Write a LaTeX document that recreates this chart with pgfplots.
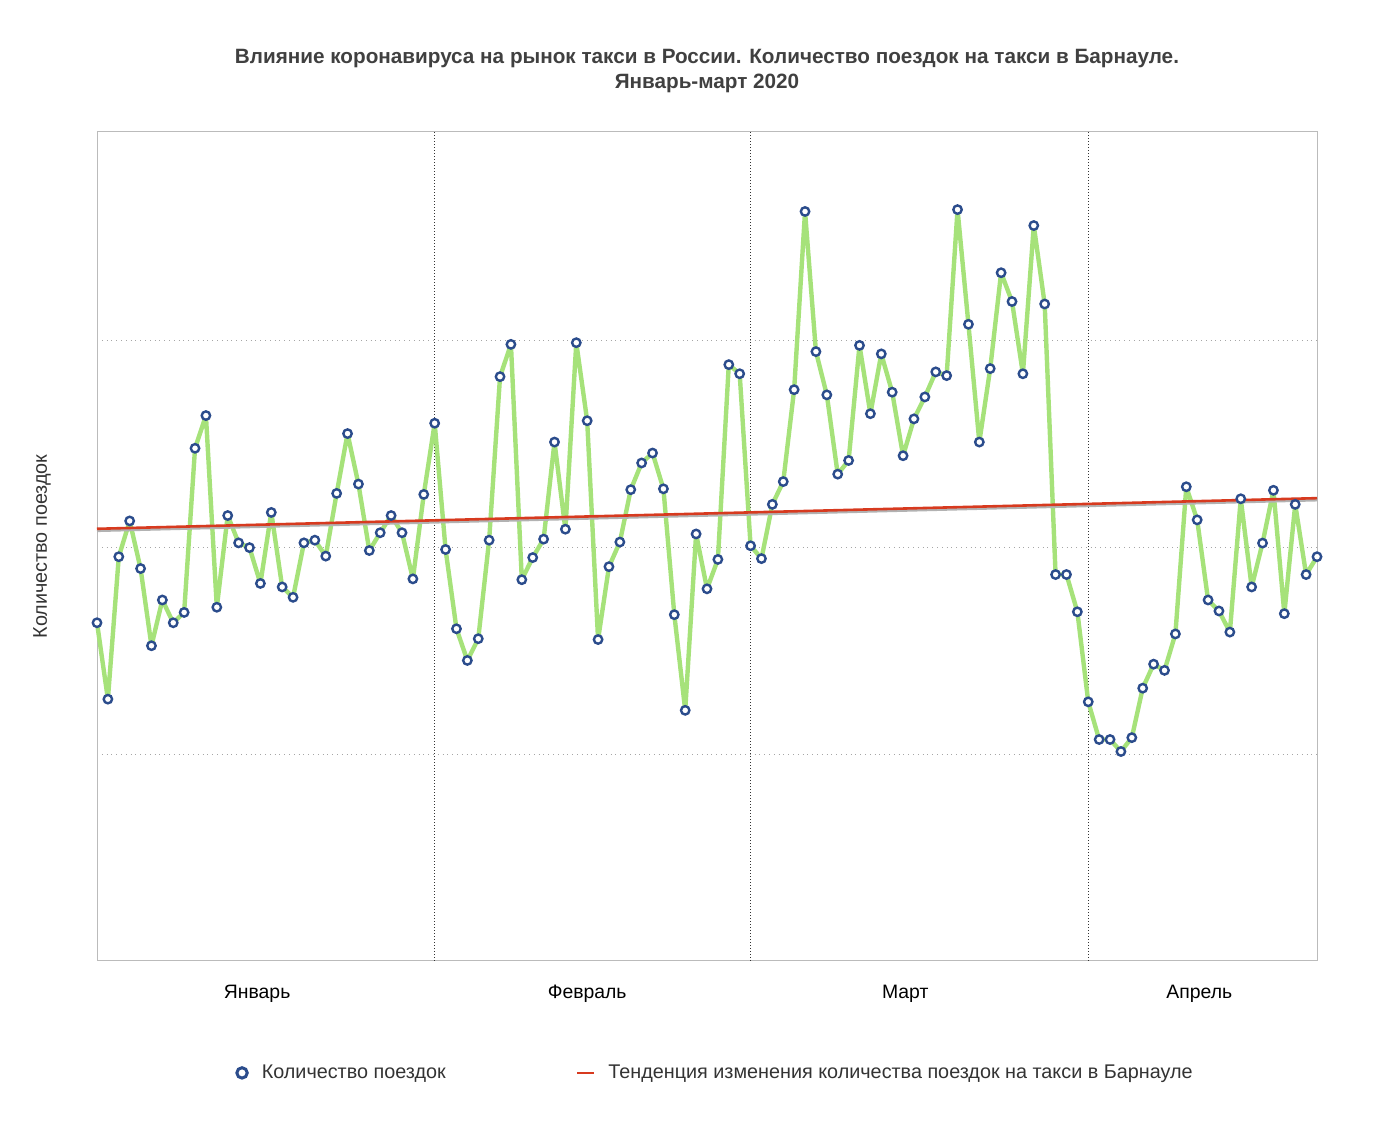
\documentclass[border=0pt]{standalone}
\usepackage{fontspec}
\setmainfont{Liberation Sans}
\usepackage{pgfplots}
\usepackage{pgfplotstable}
\pgfplotsset{compat=1.18}

\definecolor{tripgreen}{HTML}{A6E27A}
\definecolor{markblue}{HTML}{2B4C8C}
\definecolor{trendred}{HTML}{D73A1F}
\definecolor{framegray}{HTML}{BBBBBB}
\definecolor{textgray}{HTML}{333333}

% day index (0 = 1 Jan 2020) vs. trips, no scale on the chart
\pgfplotstableread{
day trips
0 1.634
1 1.265
2 1.953
3 2.126
4 1.896
5 1.523
6 1.744
7 1.634
8 1.684
9 2.477
10 2.635
11 1.709
12 2.152
13 2.020
14 1.997
15 1.824
16 2.167
17 1.807
18 1.757
19 2.020
20 2.033
21 1.956
22 2.259
23 2.548
24 2.304
25 1.983
26 2.069
27 2.152
28 2.069
29 1.846
30 2.254
31 2.598
32 1.988
33 1.605
34 1.452
35 1.557
36 2.033
37 2.823
38 2.979
39 1.842
40 1.949
41 2.038
42 2.507
43 2.086
44 2.987
45 2.610
46 1.553
47 1.905
48 2.024
49 2.277
50 2.406
51 2.454
52 2.281
53 1.673
54 1.211
55 2.063
56 1.798
57 1.940
58 2.881
59 2.837
60 2.006
61 1.944
62 2.206
63 2.316
64 2.760
65 3.621
66 2.944
67 2.735
68 2.352
69 2.418
70 2.974
71 2.644
72 2.933
73 2.748
74 2.441
75 2.619
76 2.725
77 2.846
78 2.828
79 3.630
80 3.076
81 2.507
82 2.862
83 3.325
84 3.186
85 2.837
86 3.553
87 3.174
88 1.867
89 1.867
90 1.687
91 1.252
92 1.070
93 1.070
94 1.012
95 1.079
96 1.318
97 1.434
98 1.404
99 1.580
100 2.291
101 2.131
102 1.744
103 1.691
104 1.589
105 2.233
106 1.807
107 2.019
108 2.274
109 1.678
110 2.206
111 1.867
112 1.953
}\trips

\begin{document}
\begin{tikzpicture}
\useasboundingbox (-48.5pt,-83.5pt) rectangle (642.5pt,480.5pt);
\begin{axis}[scale only axis, width=610pt, height=414.5pt,
  xmin=0, xmax=112, ymin=0, ymax=4.005, clip=false,
  axis line style={framegray, line width=0.5pt},
  major tick length=0,
  xtick={14.7,45,74.2,101.2},
  xticklabels={Январь,Февраль,Март,Апрель},
  xticklabel style={font=\fontsize{9.7}{11}\selectfont, text=black, yshift=-8.5pt},
  extra x ticks={31,60,91}, extra x tick labels={},
  extra x tick style={grid=major, major grid style={densely dotted, black!80, line width=0.5pt}},
  ytick={1,2,3}, yticklabels={},
  ymajorgrids, major grid style={dotted, black!35, line width=0.5pt},
  ylabel={Количество поездок},
  ylabel style={at={(axis description cs:-0.0451,0.5)}, anchor=center,
    font=\fontsize{9.9}{11}\selectfont, text=textgray},
  title={Влияние коронавируса на рынок такси в России. Количество поездок на такси в Барнауле.\\Январь-март 2020},
  title style={align=center, font=\bfseries\fontsize{10.35}{12.5}\selectfont, text=black!75, yshift=10pt},
  legend style={at={(0.5,-0.135)}, anchor=center, xshift=4.5pt, draw=none, legend columns=2,
    font=\fontsize{9.9}{11}\selectfont, text=textgray,
    /tikz/every odd column/.append style={column sep=4.5pt},
    /tikz/every even column/.append style={column sep=63pt}},
]
\addplot[tripgreen, line width=2.2pt, line join=round, forget plot] table[x=day,y=trips] {\trips};
\addplot[black!30, line width=1.3pt, yshift=-1pt, forget plot] coordinates {(0,2.088) (112,2.236)};
\addplot[trendred, line width=1.3pt, forget plot] coordinates {(0,2.088) (112,2.236)};
\addplot[only marks, mark=*, mark size=2.1pt,
  mark options={draw=markblue, fill=white, line width=1.2pt}, forget plot]
  table[x=day,y=trips] {\trips};
\addlegendimage{legend image code/.code={\draw[markblue, fill=white, line width=1.5pt] (4pt,0pt) circle (2.6pt);}}
\addlegendentry{Количество поездок}
\addlegendimage{legend image code/.code={\draw[trendred, line width=1.3pt] (0pt,0pt) -- (8.5pt,0pt);}}
\addlegendentry{Тенденция изменения количества поездок на такси в Барнауле}
\end{axis}
\end{tikzpicture}
\end{document}
